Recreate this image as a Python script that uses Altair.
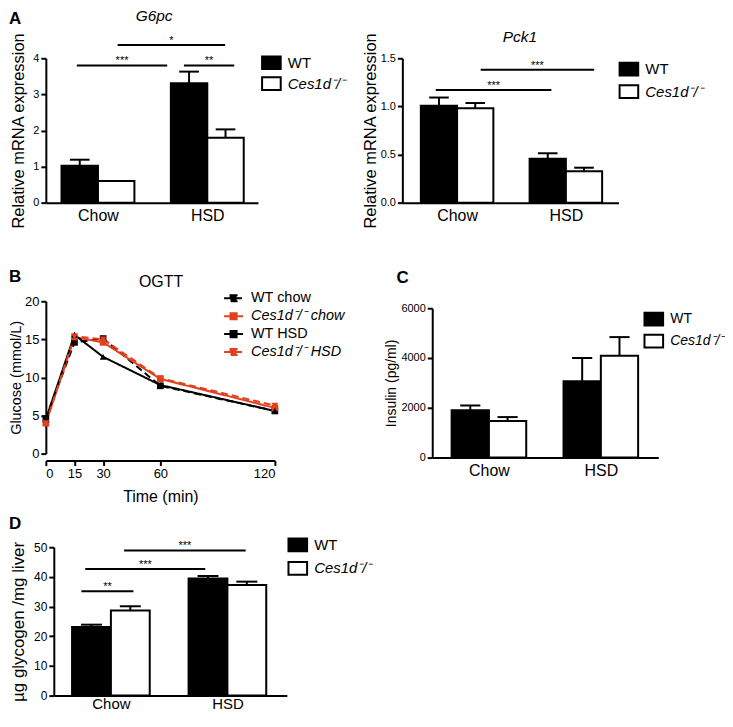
import altair as alt
import pandas as pd

FONT = "Liberation Sans"
RED = "#e2401f"

groups = ["Chow", "HSD"]
genotypes = ["WT", "Ces1d\u207b/\u207b"]

# Panel A - G6pc
g6pc_mean = [1.02, 0.60, 3.31, 1.80]
g6pc_sem = [0.17, 0.0, 0.32, 0.23]
g6pc_sig_from = [0.42, 1.54, 3.36]
g6pc_sig_to = [2.90, 4.49, 4.74]
g6pc_sig_y = [3.80, 4.37, 3.80]
g6pc_sig_text = ["***", "*", "**"]

# Panel A - Pck1
pck1_mean = [1.007, 0.98, 0.457, 0.326]
pck1_sem = [0.085, 0.055, 0.056, 0.037]
pck1_sig_from = [0.41, 1.65]
pck1_sig_to = [3.60, 4.78]
pck1_sig_y = [1.17, 1.38]
pck1_sig_text = ["***", "***"]

# Panel B - OGTT
ogtt_time = [0, 15, 30, 60, 120]
ogtt_series = ["WT chow", "Ces1d\u207b/\u207b chow", "WT HSD", "Ces1d\u207b/\u207b HSD"]
ogtt_wt_chow = [4.6, 14.6, 15.1, 8.9, 5.6]
ogtt_ko_chow = [4.0, 15.3, 14.6, 9.8, 6.0]
ogtt_wt_hsd = [4.5, 15.6, 12.7, 9.0, 5.6]
ogtt_ko_hsd = [4.0, 15.4, 15.0, 9.9, 6.3]
ogtt_colors = ["black", RED, "black", RED]
ogtt_markers = ["square", "square", "triangle-up", "triangle-down"]
ogtt_dash = [[7, 4], [1, 0], [1, 0], [7, 4]]
LINE_KEY = "M-1,0H1M-0.32,-0.32H0.32V0.32H-0.32Z"

# Panel C - insulin
insulin_mean = [1906, 1467, 3067, 4093]
insulin_sem = [187, 160, 933, 747]

# Panel D - glycogen
glycogen_mean = [23.1, 28.7, 39.5, 37.3]
glycogen_sem = [0.8, 1.4, 0.8, 1.1]
glycogen_sig_from = [0.24, 0.34, 1.34]
glycogen_sig_to = [1.58, 3.43, 4.47]
glycogen_sig_y = [35.2, 42.7, 48.9]
glycogen_sig_text = ["**", "***", "***"]

GENO_STYLE = alt.ExprRef(expr="indexof(datum.label, 'Ces1d') == 0 ? 'italic' : 'normal'")
RECT = "M-1.1,-0.75H1.1V0.75H-1.1Z"


def label_layer(text, x, y, size=17, weight="bold", style="normal", align="left"):
    return alt.Chart(pd.DataFrame({"label": [text]})).mark_text(
        font=FONT, fontSize=size, fontWeight=weight, fontStyle=style, align=align,
        baseline="alphabetic", color="black"
    ).encode(x=alt.value(x), y=alt.value(y), text="label:N")


def bar_panel(mean, sem, *, ydomain, yvalues, yformat, ytitle, width, height,
              xdomain, xrange=None, yrange=None, yoffset=0, ytitle_pad=4,
              ytitle_size=16, ylabel_size=11, xlabel_size=16, xlabel_pad=5,
              legend_x=0, legend_y=0, row_pad=0, legend_font=15,
              sig=None, extra=()):
    n = len(genotypes)
    rows = []
    for gi, g in enumerate(groups):
        for k, geno in enumerate(genotypes):
            i = gi * n + k
            left = gi * (n + 1) + k
            rows.append({"group": g, "genotype": geno, "mean": mean[i], "sem": sem[i],
                         "left": left, "right": left + 1, "mid": left + 0.5,
                         "top": mean[i] + sem[i]})
    df = pd.DataFrame(rows)
    centers = [gi * (n + 1) + n / 2 for gi in range(len(groups))]
    label_expr = f"datum.value < {(centers[0] + centers[1]) / 2} ? '{groups[0]}' : '{groups[1]}'"

    xs_kw = dict(domain=xdomain, nice=False, zero=False)
    if xrange:
        xs_kw["range"] = xrange
    ys_kw = dict(domain=ydomain, nice=False, zero=True)
    if yrange:
        ys_kw["range"] = yrange
    xscale = alt.Scale(**xs_kw)
    yscale = alt.Scale(**ys_kw)

    xaxis = alt.Axis(values=centers, labelExpr=label_expr, ticks=False,
                     labelFontSize=xlabel_size, labelPadding=xlabel_pad, title=None,
                     domainWidth=2, labelFont=FONT, labelColor="black",
                     domainColor="black", grid=False)
    yaxis = alt.Axis(values=yvalues, format=yformat, tickSize=5, tickWidth=2, domainWidth=2,
                     labelFontSize=ylabel_size, labelPadding=2, title=ytitle,
                     titleFontSize=ytitle_size, titlePadding=ytitle_pad, offset=yoffset,
                     titleFontWeight="normal", labelFont=FONT, titleFont=FONT,
                     labelColor="black", titleColor="black", domainColor="black",
                     tickColor="black", grid=False)

    legend = alt.Legend(title=None, orient="none", legendX=legend_x, legendY=legend_y,
                        symbolType=RECT, symbolSize=289, symbolStrokeColor="black",
                        symbolStrokeWidth=2, labelFont=FONT, labelFontSize=legend_font,
                        labelFontStyle=GENO_STYLE, labelOffset=7, padding=0,
                        rowPadding=row_pad, labelColor="black")

    def X(field):
        return alt.X(field, scale=xscale, axis=xaxis)

    def Y(field):
        return alt.Y(field, scale=yscale, axis=yaxis)

    bars = alt.Chart(df).mark_bar(stroke="black", strokeWidth=2).encode(
        x=X("left:Q"), x2="right:Q",
        y=Y("mean:Q"), y2=alt.datum(0),
        fill=alt.Fill("genotype:N", scale=alt.Scale(domain=genotypes, range=["black", "white"]),
                      legend=legend),
    )
    errdf = df[df["sem"] > 0]
    err = alt.Chart(errdf).mark_rule(strokeWidth=2, color="black").encode(
        x=X("mid:Q"), y=Y("mean:Q"), y2="top:Q",
    )
    caps = alt.Chart(errdf).transform_calculate(
        c0="datum.mid - 0.27", c1="datum.mid + 0.27"
    ).mark_rule(strokeWidth=2, color="black").encode(
        x=X("c0:Q"), x2="c1:Q", y=Y("top:Q"),
    )
    layers = [bars, err, caps]
    if sig:
        x1, x2, yy, tt = sig
        sdf = pd.DataFrame({"x1": x1, "x2": x2, "y": yy, "text": tt})
        sdf["xm"] = (sdf["x1"] + sdf["x2"]) / 2
        layers.append(alt.Chart(sdf).mark_rule(strokeWidth=2, color="black").encode(
            x=X("x1:Q"), x2="x2:Q", y=Y("y:Q")))
        layers.append(alt.Chart(sdf).mark_text(font=FONT, fontSize=11, baseline="alphabetic",
                                               dy=-1, color="black").encode(
            x=X("xm:Q"), y=Y("y:Q"), text="text:N"))
    layers.extend(extra)
    return alt.layer(*layers).properties(width=width, height=height)


a1 = bar_panel(
    g6pc_mean, g6pc_sem, ydomain=[0, 4], yvalues=[0, 1, 2, 3, 4], yformat="d",
    ytitle="Relative mRNA expression", width=234, height=145,
    xdomain=[-0.43, 5.39], xrange=[-8, 205], yoffset=8, ytitle_pad=6, ytitle_size=16.5,
    legend_x=209, legend_y=-5, row_pad=0,
    sig=(g6pc_sig_from, g6pc_sig_to, g6pc_sig_y, g6pc_sig_text),
    extra=[label_layer("A", -45, -34),
           label_layer("G6pc", 100.7, -37, size=15.5, weight="normal", style="italic",
                       align="center")],
)

a2 = bar_panel(
    pck1_mean, pck1_sem, ydomain=[0, 1.5], yvalues=[0, 0.5, 1.0, 1.5], yformat=".1f",
    ytitle="Relative mRNA expression", width=227, height=145,
    xdomain=[-0.51, 5.45], xrange=[-30, 187], yoffset=30, ytitle_pad=2, ytitle_size=16.5,
    legend_x=188, legend_y=1.5, row_pad=1.5,
    sig=(pck1_sig_from, pck1_sig_to, pck1_sig_y, pck1_sig_text),
    extra=[label_layer("Pck1", 88, -16, size=15.5, weight="normal", style="italic",
                       align="center")],
)

c = bar_panel(
    insulin_mean, insulin_sem, ydomain=[0, 6000], yvalues=[0, 2000, 4000, 6000], yformat="d",
    ytitle="Insulin (pg/ml)", width=227, height=166,
    xdomain=[-0.52, 5.54], yrange=[166, 16], ytitle_pad=2, ytitle_size=14, ylabel_size=11,
    legend_x=213, legend_y=17.5, row_pad=1, legend_font=14,
    extra=[label_layer("C", -36, -9)],
)

d = bar_panel(
    glycogen_mean, glycogen_sem, ydomain=[0, 50], yvalues=[0, 10, 20, 30, 40, 50], yformat="d",
    ytitle="\u00b5g glycogen /mg liver", width=234, height=149,
    xdomain=[-0.47, 5.53], ytitle_pad=6, ytitle_size=17, ylabel_size=12,
    xlabel_size=15, xlabel_pad=1,
    legend_x=235.5, legend_y=-11.8, row_pad=2.5,
    sig=(glycogen_sig_from, glycogen_sig_to, glycogen_sig_y, glycogen_sig_text),
    extra=[label_layer("D", -45, -18)],
)

# Panel B
ogtt_df = pd.DataFrame({
    "time": ogtt_time * 4,
    "glucose": ogtt_wt_chow + ogtt_ko_chow + ogtt_wt_hsd + ogtt_ko_hsd,
    "series": [s for s in ogtt_series for _ in ogtt_time],
})
bx_scale = alt.Scale(domain=[0, 120], range=[-8, 222], nice=False, zero=False)
by_scale = alt.Scale(domain=[0, 20], range=[162, 9], nice=False)
bx_axis = alt.Axis(values=ogtt_time, offset=3, tickSize=5, tickWidth=2, domainWidth=2,
                   labelFontSize=13, labelPadding=2, title="Time (min)", titleFontSize=16,
                   titleFontWeight="normal", titlePadding=8, labelFont=FONT, titleFont=FONT,
                   labelColor="black", titleColor="black", domainColor="black",
                   tickColor="black", grid=False)
by_axis = alt.Axis(values=[0, 5, 10, 15, 20], offset=8, tickSize=5, tickWidth=2,
                   domainWidth=2, labelFontSize=13, labelPadding=2, title="Glucose (mmol/L)",
                   titleFontSize=14.5, titleFontWeight="normal", titlePadding=1,
                   labelFont=FONT, titleFont=FONT, labelColor="black", titleColor="black",
                   domainColor="black", tickColor="black", grid=False)
BX = alt.X("time:Q", scale=bx_scale, axis=bx_axis)
BY = alt.Y("glucose:Q", scale=by_scale, axis=by_axis)

b_legend = alt.Legend(title=None, orient="none", legendX=170, legendY=-4.5,
                      symbolType=LINE_KEY, symbolSize=361, symbolStrokeWidth=2,
                      labelFont=FONT, labelFontSize=14.5, labelOffset=7, rowPadding=0,
                      padding=0, labelFontStyle=GENO_STYLE, labelColor="black")

b_lines = alt.Chart(ogtt_df).mark_line(strokeWidth=2).encode(
    x=BX, y=BY,
    stroke=alt.Stroke("series:N", scale=alt.Scale(domain=ogtt_series, range=ogtt_colors),
                      legend=b_legend),
    strokeDash=alt.StrokeDash("series:N", scale=alt.Scale(domain=ogtt_series, range=ogtt_dash),
                              legend=None),
)
b_layers = [b_lines]
for marker in dict.fromkeys(ogtt_markers):
    members = [s for s, m in zip(ogtt_series, ogtt_markers) if m == marker]
    b_layers.append(
        alt.Chart(ogtt_df).transform_filter(
            alt.FieldOneOfPredicate(field="series", oneOf=members)
        ).mark_point(filled=True, size=45, opacity=1, shape=marker).encode(
            x=BX, y=BY,
            fill=alt.Fill("series:N", scale=alt.Scale(domain=ogtt_series, range=ogtt_colors),
                          legend=b_legend),
        )
    )
b_layers += [label_layer("B", -45, -10),
             label_layer("OGTT", 107.7, -5, size=16, weight="normal", align="center")]
b = alt.layer(*b_layers).properties(width=234, height=166)

chart = alt.concat(
    a1, a2, b, c, d, columns=2, spacing={"row": 90, "column": 146},
    bounds="flush", align="each",
).resolve_scale(
    fill="independent", stroke="independent", shape="independent",
    color="independent", strokeDash="independent",
).resolve_legend(
    fill="independent", stroke="independent", shape="independent",
    color="independent", strokeDash="independent",
).properties(
    padding={"left": 0, "top": 0, "right": 0, "bottom": 0},
).configure_view(stroke=None).configure_axis(grid=False)

chart.save("out.html", embed_options={"renderer": "svg", "actions": False})
